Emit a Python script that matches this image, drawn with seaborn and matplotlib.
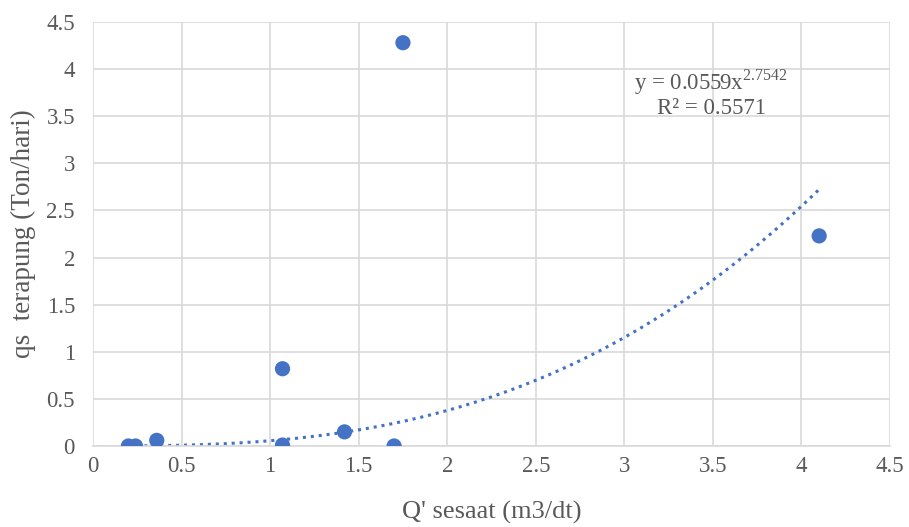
import numpy as np
import pandas as pd
import matplotlib
matplotlib.use("Agg")
import matplotlib.pyplot as plt
import seaborn as sns

# data
q_sesaat = [0.20, 0.24, 0.36, 1.07, 1.07, 1.42, 1.70, 1.75, 4.10]
qs_terapung = [0.00, 0.00, 0.06, 0.82, 0.01, 0.15, 0.00, 4.28, 2.23]

# power trendline as printed on the chart
coef_a = 0.0559
coef_b = 2.7542
r2 = 0.5571

blue = "#4472C4"
txt = "#595959"

sns.set_theme(style="whitegrid")
plt.rcParams["font.family"] = ["Liberation Serif", "DejaVu Serif"]
plt.rcParams["mathtext.fontset"] = "custom"
plt.rcParams["mathtext.rm"] = "Liberation Serif"

df = pd.DataFrame({"Q": q_sesaat, "qs": qs_terapung})
xt = np.linspace(min(q_sesaat), max(q_sesaat), 200)
trend = pd.DataFrame({"Q": xt, "qs": coef_a * xt ** coef_b})

fig = plt.figure(figsize=(9.09, 5.27), dpi=100)
ax = fig.add_axes([93 / 909, 81 / 527, 797 / 909, 424 / 527])

sns.lineplot(data=trend, x="Q", y="qs", ax=ax, color=blue,
             linestyle=(0, (1, 1.6)), linewidth=2.2)
sns.scatterplot(data=df, x="Q", y="qs", ax=ax, color=blue, s=120,
                edgecolor="none", zorder=3)

ax.set_xlim(0, 4.5)
ax.set_ylim(0, 4.5)
ticks = np.arange(0, 4.51, 0.5)
ax.set_xticks(ticks)
ax.set_yticks(ticks)
ax.set_xticklabels([f"{t:g}" for t in ticks])
ax.set_yticklabels([f"{t:g}" for t in ticks])
ax.tick_params(axis="both", labelsize=16.5, colors=txt, length=0)
ax.tick_params(axis="x", pad=7)
ax.tick_params(axis="y", pad=13)
ax.grid(True, color="#D9D9D9", linewidth=1.2)
for s in ax.spines.values():
    s.set_visible(False)
ax.spines["bottom"].set_visible(True)
ax.spines["bottom"].set_color("#D9D9D9")
ax.spines["bottom"].set_linewidth(1.2)
ax.set_facecolor("white")

ax.set_xlabel("Q' sesaat (m3/dt)", fontsize=19, color=txt, va="center")
ax.set_ylabel("qs  terapung (Ton/hari)", fontsize=19.5, color=txt, va="center")
ax.xaxis.set_label_coords(0.5, -0.156)
ax.yaxis.set_label_coords(-0.087, 0.5)

ax.text(3.49, 3.86, r"y = 0.0559x$^{2.7542}$", fontsize=16.5, color=txt, ha="center", va="center")
ax.text(3.49, 3.58, f"R² = {r2}", fontsize=16.5, color=txt, ha="center", va="center")

fig.savefig("out.png", dpi=100)
